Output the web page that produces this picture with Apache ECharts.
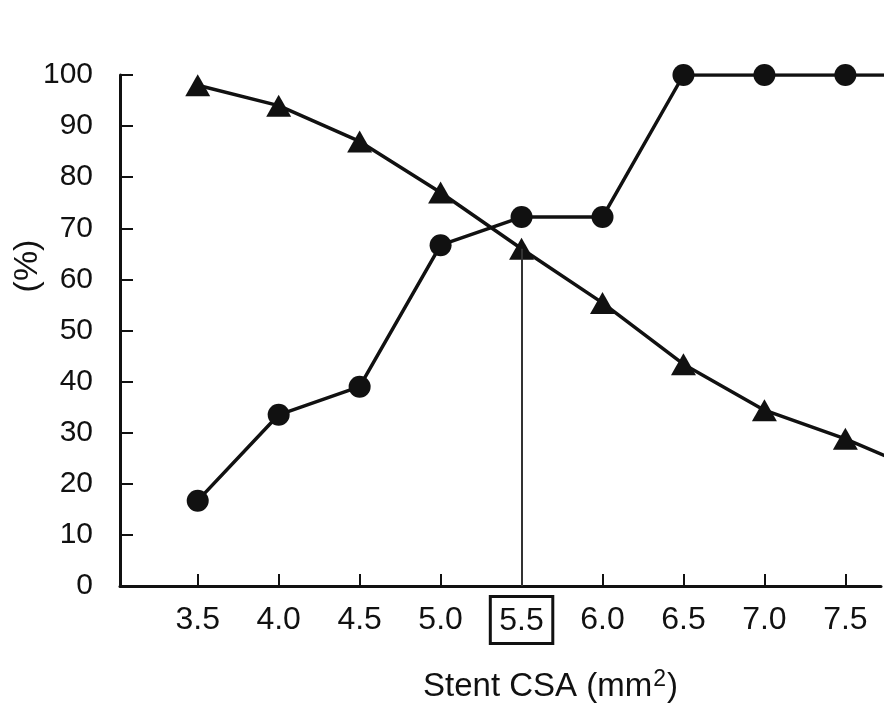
<!DOCTYPE html>
<html>
<head>
<meta charset="utf-8">
<script src="https://cdn.jsdelivr.net/npm/echarts@6/dist/echarts.min.js"></script>
<style>
  html, body { margin: 0; padding: 0; background: #fff; }
  #chart { width: 892px; height: 713px; }
</style>
</head>
<body>
<div id="chart"></div>
<script>
// stent CSA values (mm2), the last one only carries the line off the right edge
const csa = [3.5, 4.0, 4.5, 5.0, 5.5, 6.0, 6.5, 7.0, 7.5, 8.0];
const circleVals = [16.7, 33.5, 39, 66.7, 72.2, 72.2, 100, 100, 100, 100];
const triangleVals = [98, 94, 87, 77, 66, 55.4, 43.4, 34.4, 28.8, 22];
const xTicks = [3.5, 4.0, 4.5, 5.0, 5.5, 6.0, 6.5, 7.0, 7.5];
const cutoff = 5.5;

const FONT = '"Liberation Sans", Arial, sans-serif';
const INK = '#111';

function pairs(vals) {
  return csa.map((x, i) => {
    const item = { value: [x, vals[i]] };
    if (i === csa.length - 1) {
      item.symbol = 'none';
    }
    return item;
  });
}

const cutIdx = csa.indexOf(cutoff);

const chart = echarts.init(document.getElementById('chart'));

chart.setOption({
  animation: false,
  backgroundColor: '#fff',
  grid: { left: 120, right: 11, top: 75, bottom: 127, containLabel: false },
  xAxis: {
    type: 'value',
    min: 3.02,
    max: 7.72,
    axisLine: { show: true, lineStyle: { color: INK, width: 3 } },
    axisTick: {
      show: true, inside: true, length: 12,
      customValues: xTicks,
      lineStyle: { color: INK, width: 2 }
    },
    splitLine: { show: false },
    axisLabel: {
      customValues: xTicks,
      margin: 34,
      verticalAlign: 'middle',
      color: INK,
      fontFamily: FONT,
      fontSize: 32,
      formatter: function (v) {
        const s = v.toFixed(1);
        return v === cutoff ? '{box|' + s + '}' : s;
      },
      rich: {
        box: {
          fontFamily: FONT,
          fontSize: 32,
          color: INK,
          borderColor: INK,
          borderWidth: 3,
          padding: [9, 9, 6, 9]
        }
      }
    }
  },
  yAxis: {
    type: 'value',
    min: 0,
    max: 100,
    interval: 10,
    axisLine: { show: true, lineStyle: { color: INK, width: 3 } },
    axisTick: { show: true, inside: true, length: 13, lineStyle: { color: INK, width: 2 } },
    splitLine: { show: false },
    axisLabel: { margin: 27, color: INK, fontFamily: FONT, fontSize: 30 }
  },
  graphic: [
    {
      type: 'text',
      x: 28,
      y: 266,
      rotation: Math.PI / 2,
      style: {
        text: '(%)',
        fill: INK,
        font: '34px ' + FONT,
        align: 'center',
        verticalAlign: 'middle'
      }
    },
    {
      type: 'text',
      x: 423,
      y: 687,
      style: {
        text: 'Stent CSA (mm{sup|2})',
        fill: INK,
        font: '33px ' + FONT,
        verticalAlign: 'middle',
        rich: {
          sup: { fontFamily: FONT, fontSize: 23, fill: INK, padding: [0, 1, 14, 1] }
        }
      }
    }
  ],
  series: [
    {
      type: 'line',
      data: pairs(circleVals),
      symbol: 'circle',
      symbolSize: 22,
      clip: true,
      lineStyle: { color: INK, width: 3.5 },
      itemStyle: { color: INK }
    },
    {
      type: 'line',
      data: pairs(triangleVals),
      symbol: 'triangle',
      symbolSize: [25, 22],
      clip: true,
      lineStyle: { color: INK, width: 3.5 },
      itemStyle: { color: INK },
      markLine: {
        silent: true,
        symbol: 'none',
        label: { show: false },
        lineStyle: { color: '#333', width: 2, type: 'solid' },
        data: [[
          { coord: [cutoff, 0] },
          { coord: [cutoff, triangleVals[cutIdx]] }
        ]]
      }
    }
  ]
});
</script>
</body>
</html>
